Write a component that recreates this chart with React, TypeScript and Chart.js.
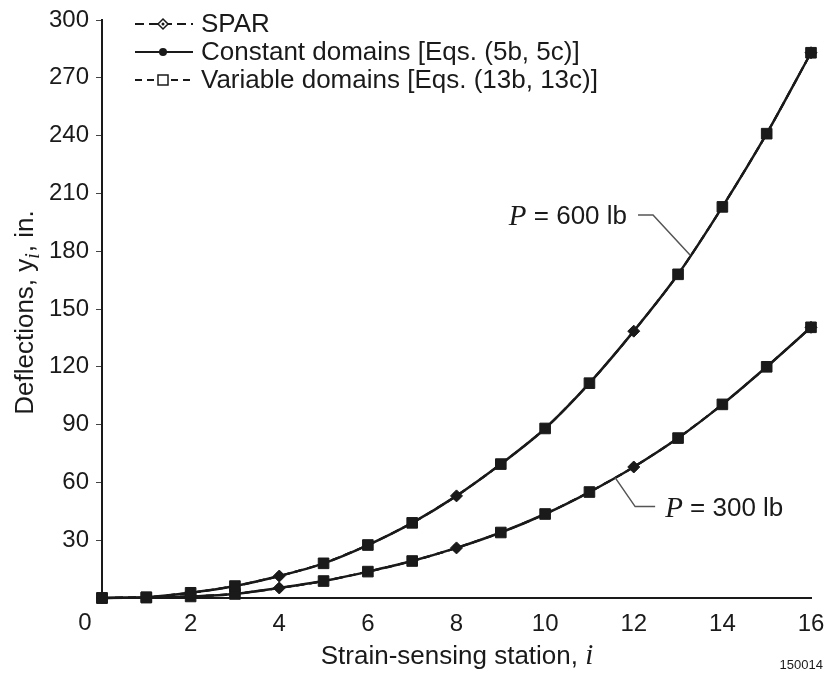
import React, { useEffect, useRef } from 'react';
import { Chart, registerables } from 'chart.js';

Chart.register(...registerables);

// ---- data ----
const stations = [0, 1, 2, 3, 4, 5, 6, 7, 8, 9, 10, 11, 12, 13, 14, 15, 16];
const deflection600 = [0, 0.4, 2.7, 6.2, 11.4, 18, 27.5, 39, 53, 69.5, 88, 111.5, 138.5, 168, 203, 241, 283];
const deflection300 = [0, 0.2, 0.8, 2.1, 5.2, 8.8, 13.7, 19.2, 26, 34, 43.6, 55, 68, 83, 100.5, 120, 140.5];
const sparStations = [0, 4, 8, 12, 16];
const variableStations = [0, 1, 2, 3, 5, 6, 7, 9, 10, 11, 13, 14, 15, 16];
const legendLabels = ['SPAR', 'Constant domains [Eqs. (5b, 5c)]', 'Variable domains [Eqs. (13b, 13c)]'];
const loadLabels = ['600 lb', '300 lb'];
const xTitle = 'Strain-sensing station, ';
const yTitleParts = ['Deflections, y', 'i', ', in.'];
const figureId = '150014';

const SANS = '"Liberation Sans", Arial, Helvetica, sans-serif';
const SERIF = '"Liberation Serif", "Times New Roman", serif';
const INK = '#1a1a1a';

function pts(vals: number[]) {
  return stations.map((s, i) => ({ x: s, y: vals[i] }));
}
function radii(keep: number[], r: number) {
  return stations.map((s) => (keep.includes(s) ? r : 0));
}

function buildDatasets(vals: number[]) {
  return [
    {
      label: 'Variable',
      data: pts(vals),
      borderColor: INK,
      borderWidth: 2,
      borderDash: [8, 5],
      pointStyle: 'rect',
      pointRadius: radii(variableStations, 7.5),
      pointBackgroundColor: INK,
      pointBorderColor: INK,
      pointBorderWidth: 1,
      tension: 0.25,
      fill: false,
      clip: 10,
    },
    {
      label: 'SPAR',
      data: pts(vals),
      borderColor: INK,
      borderWidth: 2,
      borderDash: [8, 5],
      pointStyle: 'rectRot',
      pointRadius: radii(sparStations, 6),
      pointBackgroundColor: INK,
      pointBorderColor: INK,
      pointBorderWidth: 1,
      tension: 0.25,
      fill: false,
      clip: 10,
    },
    {
      label: 'Constant',
      data: pts(vals),
      borderColor: INK,
      borderWidth: 2.5,
      pointStyle: 'circle',
      pointRadius: 3,
      pointBackgroundColor: INK,
      pointBorderColor: INK,
      tension: 0.25,
      fill: false,
      clip: 10,
    },
  ];
}

function drawMarker(ctx: CanvasRenderingContext2D, kind: string, x: number, y: number) {
  ctx.save();
  ctx.setLineDash([]);
  ctx.lineWidth = 1.5;
  ctx.strokeStyle = INK;
  if (kind === 'diamond') {
    ctx.fillStyle = '#fff';
    ctx.beginPath();
    ctx.moveTo(x, y - 5);
    ctx.lineTo(x + 5, y);
    ctx.lineTo(x, y + 5);
    ctx.lineTo(x - 5, y);
    ctx.closePath();
    ctx.fill();
    ctx.stroke();
    ctx.fillStyle = INK;
    ctx.beginPath();
    ctx.arc(x, y, 1.5, 0, Math.PI * 2);
    ctx.fill();
  } else if (kind === 'circle') {
    ctx.fillStyle = INK;
    ctx.beginPath();
    ctx.arc(x, y, 4, 0, Math.PI * 2);
    ctx.fill();
  } else {
    ctx.fillStyle = '#fff';
    ctx.fillRect(x - 5, y - 5, 10, 10);
    ctx.strokeRect(x - 5, y - 5, 10, 10);
  }
  ctx.restore();
}

const decorPlugin = {
  id: 'decor',
  afterDraw(chart: any) {
    const ctx: CanvasRenderingContext2D = chart.ctx;
    const xs = chart.scales.x;
    const ys = chart.scales.y;
    ctx.save();
    ctx.fillStyle = INK;

    // corner zero
    ctx.font = `24px ${SANS}`;
    ctx.textAlign = 'center';
    ctx.textBaseline = 'middle';
    ctx.fillText('0', xs.left - 17, ys.bottom + 25);

    // legend
    const kinds = ['diamond', 'circle', 'square'];
    const dashes = [[9, 5], [], [7, 5]];
    const rowY = [24, 52, 80];
    legendLabels.forEach((lab, i) => {
      const y = rowY[i];
      ctx.save();
      ctx.strokeStyle = INK;
      ctx.lineWidth = 2;
      ctx.setLineDash(dashes[i]);
      ctx.beginPath();
      ctx.moveTo(135, y);
      ctx.lineTo(193, y);
      ctx.stroke();
      ctx.restore();
      drawMarker(ctx, kinds[i], 163, y);
      ctx.font = `26px ${SANS}`;
      ctx.textAlign = 'left';
      ctx.textBaseline = 'middle';
      ctx.fillStyle = INK;
      ctx.fillText(lab, 201, y + 1);
    });

    // x title
    ctx.font = `26px ${SANS}`;
    const w1 = ctx.measureText(xTitle).width;
    ctx.font = `italic 29px ${SERIF}`;
    const w2 = ctx.measureText('i').width;
    const cx = 457;
    const sx = cx - (w1 + w2) / 2;
    ctx.textAlign = 'left';
    ctx.textBaseline = 'alphabetic';
    ctx.font = `26px ${SANS}`;
    ctx.fillText(xTitle, sx, 664);
    ctx.font = `italic 29px ${SERIF}`;
    ctx.fillText('i', sx + w1, 664);

    // y title
    ctx.save();
    ctx.translate(33, 313);
    ctx.rotate(-Math.PI / 2);
    ctx.font = `26px ${SANS}`;
    const a = ctx.measureText(yTitleParts[0]).width;
    const c = ctx.measureText(yTitleParts[2]).width;
    ctx.font = `italic 20px ${SERIF}`;
    const b = ctx.measureText(yTitleParts[1]).width;
    const tx = -(a + b + c) / 2;
    ctx.textAlign = 'left';
    ctx.textBaseline = 'alphabetic';
    ctx.font = `26px ${SANS}`;
    ctx.fillText(yTitleParts[0], tx, 0);
    ctx.font = `italic 20px ${SERIF}`;
    ctx.fillText(yTitleParts[1], tx + a, 6);
    ctx.font = `26px ${SANS}`;
    ctx.fillText(yTitleParts[2], tx + a + b + 1, 0);
    ctx.restore();

    // annotations
    const drawLoad = (label: string, px: number, py: number, anchorLeft: boolean) => {
      ctx.font = `italic 29px ${SERIF}`;
      const pw = ctx.measureText('P').width;
      ctx.font = `26px ${SANS}`;
      const rest = ' = ' + label;
      const rw = ctx.measureText(rest).width;
      const start = anchorLeft ? px : px - pw - rw;
      ctx.textAlign = 'left';
      ctx.textBaseline = 'alphabetic';
      ctx.font = `italic 29px ${SERIF}`;
      ctx.fillText('P', start, py + 10);
      ctx.font = `26px ${SANS}`;
      ctx.fillText(rest, start + pw, py + 9);
    };

    ctx.strokeStyle = '#555';
    ctx.lineWidth = 1.5;
    // 600 lb
    const e1x = xs.getPixelForValue(13.27);
    const e1y = ys.getPixelForValue(178);
    ctx.beginPath();
    ctx.moveTo(e1x - 52, e1y - 40);
    ctx.lineTo(e1x - 37, e1y - 40);
    ctx.lineTo(e1x, e1y);
    ctx.stroke();
    drawLoad(loadLabels[0], e1x - 63, e1y - 40, false);

    // 300 lb
    const e2x = xs.getPixelForValue(11.58);
    const e2y = ys.getPixelForValue(62.5);
    ctx.beginPath();
    ctx.moveTo(e2x, e2y);
    ctx.lineTo(e2x + 20, e2y + 29);
    ctx.lineTo(e2x + 40, e2y + 29);
    ctx.stroke();
    drawLoad(loadLabels[1], e2x + 50, e2y + 29, true);

    // figure id
    ctx.font = `13px ${SANS}`;
    ctx.textAlign = 'right';
    ctx.textBaseline = 'middle';
    ctx.fillStyle = INK;
    ctx.fillText(figureId, 823, 665);
    ctx.restore();
  },
};

export default function App() {
  const ref = useRef<HTMLCanvasElement>(null);
  useEffect(() => {
    if (!ref.current) return;
    const chart = new Chart(ref.current, {
      type: 'line',
      data: {
        datasets: [...buildDatasets(deflection600), ...buildDatasets(deflection300)] as any,
      },
      options: {
        animation: false,
        responsive: true,
        maintainAspectRatio: false,
        layout: { padding: { top: 20, right: 17, left: 0, bottom: 0 } },
        plugins: { legend: { display: false }, tooltip: { enabled: false } },
        scales: {
          x: {
            type: 'linear',
            min: 0,
            max: 16,
            ticks: {
              stepSize: 2,
              padding: 12,
              color: INK,
              font: { size: 24, family: SANS },
              callback: (v: any) => (v === 0 ? '' : String(v)),
            },
            grid: { display: true, drawOnChartArea: false, drawTicks: false },
            border: { display: true, color: INK, width: 2 },
            afterFit: (s: any) => {
              s.height = 79;
              s.paddingRight = 0;
              s.paddingLeft = 0;
            },
          },
          y: {
            type: 'linear',
            min: 0,
            max: 300,
            ticks: {
              stepSize: 30,
              padding: 7,
              color: INK,
              font: { size: 24, family: SANS },
              callback: (v: any) => (v === 0 ? '' : String(v)),
            },
            grid: { display: true, drawOnChartArea: false, drawTicks: true, tickLength: 6, color: '#444', lineWidth: 1 },
            border: { display: true, color: INK, width: 2 },
            afterFit: (s: any) => {
              s.width = 102;
              s.paddingTop = 0;
              s.paddingBottom = 0;
            },
          },
        },
      } as any,
      plugins: [decorPlugin],
    });
    return () => chart.destroy();
  }, []);
  return (
    <div style={{ position: 'absolute', left: 0, top: 0, width: 828, height: 677, background: '#fff' }}>
      <canvas ref={ref} />
    </div>
  );
}
